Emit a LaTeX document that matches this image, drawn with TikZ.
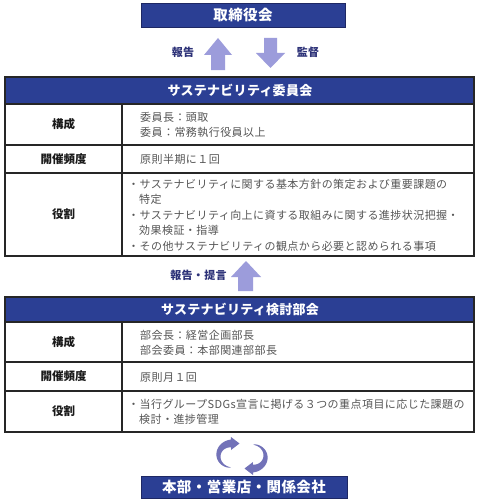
\documentclass[tikz,border=0pt]{standalone}
\usepackage{fontspec}
\setmainfont{Noto Sans CJK JP}
\definecolor{navy}{RGB}{43,63,148}
\definecolor{navyline}{RGB}{30,40,100}
\definecolor{arrowfill}{RGB}{156,156,219}
\definecolor{circfill}{RGB}{114,114,184}
\definecolor{arrowtext}{RGB}{45,50,120}
\definecolor{bodygray}{RGB}{85,85,85}
\begin{document}
\begin{tikzpicture}[x=1pt,y=-1pt,
  navybox/.style={fill=navy, draw=navyline, line width=0.8pt, inner sep=0pt},
  cell/.style={draw=black!85, line width=1.1pt},
  hdtext/.style={text=white, font=\bfseries\fontsize{13}{15}\selectfont\addfontfeature{LetterSpace=2}, inner sep=0pt},
  bigtext/.style={text=white, font=\bfseries\fontsize{14.5}{16}\selectfont\addfontfeature{LetterSpace=3}},
  lbl/.style={text=black!90, font=\bfseries\fontsize{11.5}{14}\selectfont, inner sep=0pt},
  body/.style={text=bodygray, font=\fontsize{11}{15.5}\selectfont\addfontfeature{LetterSpace=4}, align=left, inner sep=0pt, anchor=west},
  arrowlbl/.style={text=arrowtext, font=\bfseries\fontsize{11}{13}\selectfont\addfontfeature{LetterSpace=3}, inner sep=0pt},
  blockarrow/.style={fill=arrowfill},
  circarrow/.style={fill=circfill}
]
\useasboundingbox (0,0) rectangle (480,503);
\fill[white] (0,0) rectangle (480,503);

% top box
\node[navybox, bigtext, minimum width=204pt, minimum height=24pt] (board) at (243,15.5) {取締役会};

% arrows board <-> committee
\fill[blockarrow] (218,38) -- (232,55) -- (225,55) -- (225,70) -- (211,70) -- (211,55) -- (204,55) -- cycle;
\fill[blockarrow] (264,38) -- (277,38) -- (277,53) -- (285,53) -- (270.5,68) -- (256,53) -- (264,53) -- cycle;
\node[arrowlbl] (rep1) at (183,52) {報告};
\node[arrowlbl] (sup1) at (308,52) {監督};

% upper table
\fill[navy] (5,77) rectangle (474,104);
\draw[cell] (5,77) rectangle (474,256);
\draw[cell] (5,104) -- (474,104);
\draw[cell] (5,145) -- (474,145);
\draw[cell] (5,173) -- (474,173);
\draw[cell] (122,104) -- (122,256);
\node[hdtext] (comhd) at (240,90.5) {サステナビリティ委員会};
\node[lbl] (comL1) at (63.5,124.5) {構成};
\node[lbl] (comL2) at (63.5,159) {開催頻度};
\node[lbl] (comL3) at (63.5,214.5) {役割};
\node[body] (comB1) at (140,125) {委員長：頭取\\委員：常務執行役員以上};
\node[body] (comB2) at (140,159) {原則半期に１回};
\node[body] (comB3) at (128,215) {・サステナビリティに関する基本方針の策定および重要課題の\\\phantom{・}特定\\・サステナビリティ向上に資する取組みに関する進捗状況把握・\\\phantom{・}効果検証・指導\\・その他サステナビリティの観点から必要と認められる事項};

% middle arrow
\fill[blockarrow] (246,261) -- (261,277) -- (253,277) -- (253,291) -- (238,291) -- (238,277) -- (231,277) -- cycle;
\node[arrowlbl] (rep2) at (198.5,275) {報告・提言};

% lower table
\fill[navy] (5,297) rectangle (474,322);
\draw[cell] (5,297) rectangle (474,432);
\draw[cell] (5,322) -- (474,322);
\draw[cell] (5,362) -- (474,362);
\draw[cell] (5,391) -- (474,391);
\draw[cell] (122,322) -- (122,432);
\node[hdtext] (subhd) at (240,309.5) {サステナビリティ検討部会};
\node[lbl] (subL1) at (63.5,342) {構成};
\node[lbl] (subL2) at (63.5,376.5) {開催頻度};
\node[lbl] (subL3) at (63.5,411.5) {役割};
\node[body] (subB1) at (140,343) {部会長：経営企画部長\\部会委員：本部関連部部長};
\node[body] (subB2) at (140,377) {原則月１回};
\node[body] (subB3) at (128,412) {・当行グループSDGs宣言に掲げる３つの重点項目に応じた課題の\\\phantom{・}検討・進捗管理};

% circular arrows
\fill[circarrow] plot[domain=95:268, samples=40, variable=\a]
  ({231.5+(13.3+3.6*(\a-95)/173)*cos(\a)},{455.5+(12.3+3.6*(\a-95)/173)*sin(\a)})
  -- (231,437) -- (239.5,443.5) -- (231,450)
  -- plot[domain=268:95, samples=40, variable=\a]
  ({231.5+(12.7-3.6*(\a-95)/173)*cos(\a)},{455.5+(11.7-3.6*(\a-95)/173)*sin(\a)})
  -- cycle;
\fill[circarrow] plot[domain=275:448, samples=40, variable=\a]
  ({252.5+(13.3+3.6*(\a-275)/173)*cos(\a)},{456.5+(12.3+3.6*(\a-275)/173)*sin(\a)})
  -- (253,475) -- (244.5,468.5) -- (253,462)
  -- plot[domain=448:275, samples=40, variable=\a]
  ({252.5+(12.7-3.6*(\a-275)/173)*cos(\a)},{456.5+(11.7-3.6*(\a-275)/173)*sin(\a)})
  -- cycle;

% bottom box
\node[navybox, bigtext, minimum width=206pt, minimum height=22pt] (units) at (244,487) {本部・営業店・関係会社};
\end{tikzpicture}
\end{document}
